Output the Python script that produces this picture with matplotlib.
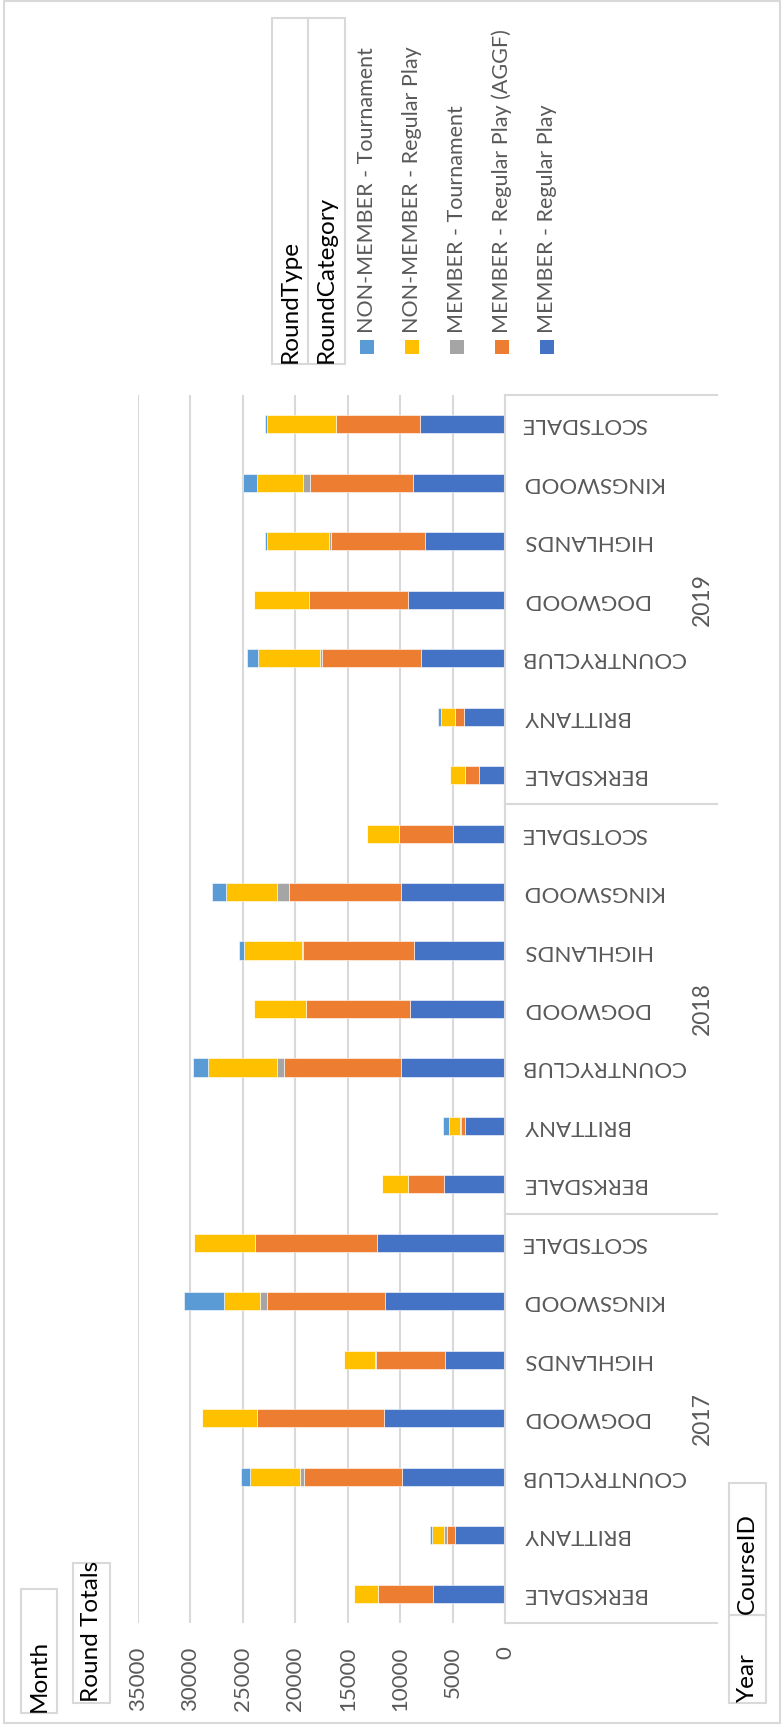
import numpy as np
import matplotlib
matplotlib.use('Agg')
import matplotlib.pyplot as plt
from matplotlib.patches import Rectangle
from matplotlib.transforms import blended_transform_factory

plt.rcParams['font.family'] = ['Lato', 'DejaVu Sans']

# Datos (orden: 2017, 2018, 2019; cada anio los 7 campos)
years = ['2017', '2018', '2019']
courses = ['BERKSDALE', 'BRITTANY', 'COUNTRYCLUB', 'DOGWOOD', 'HIGHLANDS', 'KINGSWOOD', 'SCOTSDALE']

member_regular = [6900, 4800, 9850, 11510, 5680, 11460, 12190,
                  5780, 3780, 9900, 9100, 8670, 9900, 5000,
                  2520, 3900, 8040, 9220, 7620, 8800, 8130]
member_aggf = [5250, 750, 9320, 12140, 6620, 11240, 11670,
               3470, 420, 11150, 9900, 10570, 10710, 5140,
               1340, 860, 9380, 9440, 8940, 9800, 7950]
member_tourn = [0, 250, 380, 0, 80, 630, 0,
                0, 100, 710, 0, 95, 1140, 0,
                0, 50, 220, 0, 190, 640, 60]
nonmember_regular = [2250, 1200, 4800, 5220, 2940, 3470, 5780,
                     2520, 1060, 6520, 4950, 5570, 4900, 3050,
                     1430, 1330, 5870, 5270, 5900, 4430, 6540]
nonmember_tourn = [0, 150, 830, 0, 0, 3780, 0,
                   0, 520, 1430, 0, 430, 1330, 0,
                   0, 290, 1050, 0, 250, 1280, 190]

series = [('MEMBER - Regular Play', member_regular, '#4472C4'),
          ('MEMBER - Regular Play (AGGF)', member_aggf, '#ED7D31'),
          ('MEMBER - Tournament', member_tourn, '#A5A5A5'),
          ('NON-MEMBER - Regular Play', nonmember_regular, '#FFC000'),
          ('NON-MEMBER - Tournament', nonmember_tourn, '#5B9BD5')]

W, H = 783, 1728
grey = '#D9D9D9'
txt = '#595959'

def fx(p):
    return p / W

def fy(p):
    return 1 - p / H

fig = plt.figure(figsize=(W / 100, H / 100), dpi=100)

# marco exterior
fig.patches.append(Rectangle((fx(4), fy(1723)), fx(776), 1722 / H, transform=fig.transFigure,
                             fill=False, edgecolor=grey, lw=1.5))

# area del grafico
x0, x1, ytop, ybot = 138, 505, 395, 1623
ax = fig.add_axes([fx(x0), fy(ybot), fx(x1 - x0), (ybot - ytop) / H])

n = len(member_regular)
ypos = np.arange(n)
left = np.zeros(n)
for name, vals, col in series:
    vals = np.array(vals, dtype=float)
    ax.barh(ypos, vals, left=left, height=0.31, color=col, edgecolor='white', linewidth=0.4, zorder=3)
    left += vals

ax.set_xlim(35000, 0)
ax.set_ylim(-0.5, n - 0.5)
ax.set_xticks(np.arange(0, 35001, 5000))
ax.set_xticklabels([str(v) for v in range(0, 35001, 5000)], rotation=90, color=txt, fontsize=16)
ax.tick_params(axis='x', length=0, pad=17)
ax.set_yticks([])
ax.grid(axis='x', color=grey, lw=1.5, zorder=0)
for s in ax.spines.values():
    s.set_visible(False)

tr = blended_transform_factory(ax.transAxes, ax.transData)
xend = (717 - x0) / (x1 - x0)
xlab = (521 - x0) / (x1 - x0)
xyear = (702 - x0) / (x1 - x0)

# eje de categorias
ax.plot([1, 1], [-0.5, n - 0.5], transform=tr, color=grey, lw=1.5, clip_on=False, zorder=4)
for yb in [-0.5, 6.5, 13.5, 20.5]:
    ax.plot([1, xend], [yb, yb], transform=tr, color=grey, lw=1.5, clip_on=False)

for i in range(n):
    ax.text(xlab, i, courses[i % 7], transform=tr, rotation=180, ha='left', va='center',
            fontsize=16, color=txt)
for j, yr in enumerate(years):
    ax.text(xyear, j * 7 + 3, yr, transform=tr, rotation=90, ha='center', va='center',
            fontsize=16.5, color=txt)

# botones de campo
def button(xa, xb, ya, yb, label):
    fig.patches.append(Rectangle((fx(xa), fy(yb)), fx(xb - xa), (yb - ya) / H,
                                 transform=fig.transFigure, facecolor='white', edgecolor=grey, lw=1.5))
    fig.text(fx((xa + xb) / 2), fy(yb - 1), label, rotation=90, ha='center', va='bottom',
             fontsize=17.5, color='black')

button(21, 57, 1589, 1713, 'Month')
button(73, 110, 1563, 1703, 'Round Totals')
button(729, 766, 1615, 1703, 'Year')
button(729, 766, 1483, 1615, 'CourseID')
button(272, 308, 18, 364, 'RoundType')
button(308, 345, 18, 364, 'RoundCategory')

# leyenda
legend_x = [367, 412, 457, 502, 547]
for (name, vals, col), lx in zip(series[::-1], legend_x):
    fig.patches.append(Rectangle((fx(lx - 7), fy(354)), fx(14), 14 / H, transform=fig.transFigure,
                                 facecolor=col, edgecolor='none'))
    fig.text(fx(lx), fy(333), name, rotation=90, ha='center', va='bottom', fontsize=15.5, color=txt)

plt.savefig('out.png', dpi=100)
